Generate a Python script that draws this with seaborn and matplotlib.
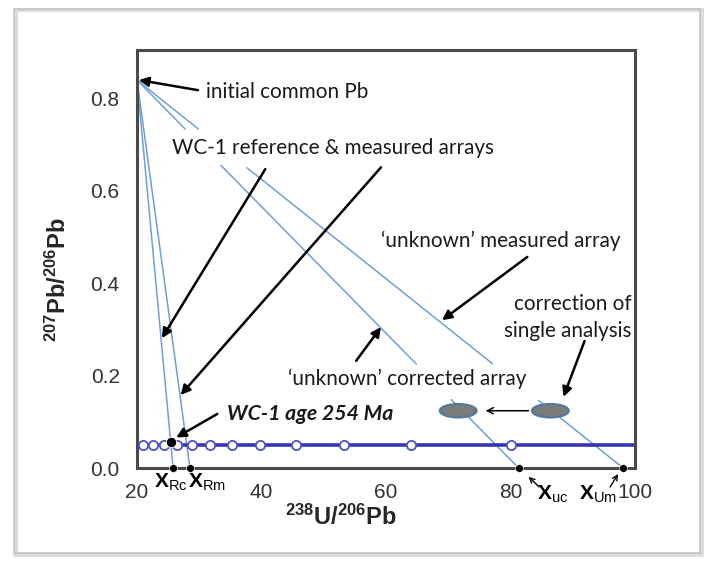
import numpy as np
import pandas as pd
import matplotlib
matplotlib.use('Agg')
import matplotlib.pyplot as plt
import seaborn as sns
from matplotlib.patches import Ellipse, Rectangle
from matplotlib.ticker import MultipleLocator

# ---------------- data ----------------
common_pb_x, common_pb_y = 20.0, 0.84           # initial common Pb
intercept_names = ['Rc', 'Rm', 'uc', 'Um']
intercept_x = [25.8, 28.5, 81.3, 98.1]           # x-axis intercepts
# y-extent of the visible pieces of each regression array
seg_ref = [(0.84, 0.0)]
seg_meas = [(0.84, 0.0)]
seg_unk_corr = [(0.84, 0.734), (0.655, 0.225), (0.148, 0.0)]
seg_unk_meas = [(0.84, 0.734), (0.650, 0.226), (0.146, 0.0)]
# concordia (Tera-Wasserburg) ticks, 300 -> 80 Ma
concordia_x = [20.99, 22.53, 24.30, 26.36, 28.80, 31.74, 35.32, 39.79,
               45.55, 53.22, 63.96, 80.08]
concordia_y = [0.05] * len(concordia_x)
concordia_line_x = [20, 100]
concordia_line_y = [0.05, 0.05]
wc1_x, wc1_y = [25.5], [0.057]
ellipse_x = [71.6, 86.4]
ellipse_y = [0.124, 0.124]

x_ticks = [20, 40, 60, 80, 100]
y_ticks = [0.0, 0.2, 0.4, 0.6, 0.8]

# ---------------- style ----------------
sns.set_style('white')
plt.rcParams['font.family'] = ['Liberation Sans', 'DejaVu Sans']
plt.rcParams['mathtext.fontset'] = 'custom'
plt.rcParams['mathtext.rm'] = 'Liberation Sans'
plt.rcParams['mathtext.bf'] = 'Liberation Sans:bold'
plt.rcParams['mathtext.it'] = 'Liberation Sans:italic'

W, H = 712, 568
fig = plt.figure(figsize=(W / 100, H / 100), dpi=100)
ax = fig.add_axes([137 / W, 1 - 468 / H, (635 - 137) / W, (468 - 50) / H])

line_blue = '#6f9fd8'
conc_blue = '#3434b4'
ann_font = dict(family=['Lato', 'DejaVu Sans'], color='#1a1a1a', fontsize=14.9)


def array_xy(x_int, y_top, y_bot):
    # points on the straight line from common Pb to the x-intercept
    ys = np.array([y_top, y_bot])
    xs = common_pb_x + (x_int - common_pb_x) * (1 - ys / common_pb_y)
    return xs, ys


for x_int, segs in zip(intercept_x, [seg_ref, seg_meas, seg_unk_corr, seg_unk_meas]):
    for (yt, yb) in segs:
        xs, ys = array_xy(x_int, yt, yb)
        sns.lineplot(x=xs, y=ys, ax=ax, color=line_blue, lw=1.1,
                     sort=False, estimator=None)

# concordia
sns.lineplot(x=concordia_line_x, y=concordia_line_y, ax=ax, color=conc_blue,
             lw=2.6, sort=False, estimator=None)
sns.scatterplot(x=concordia_x, y=concordia_y, ax=ax, s=44, marker='o',
                facecolor='white', edgecolor='#5050cc', linewidth=1.3, zorder=4)

# WC-1 age point and intercept points
sns.scatterplot(x=wc1_x, y=wc1_y, ax=ax, s=55, color='black', zorder=5)
sns.scatterplot(x=intercept_x, y=[0] * len(intercept_x), ax=ax, s=32,
                color='black', zorder=6, clip_on=False)

# ellipses (single analysis)
for ex, ey in zip(ellipse_x, ellipse_y):
    ax.add_patch(Ellipse((ex, ey), width=5.9, height=0.029, facecolor='#7b7b7b',
                         edgecolor='#5577a0', lw=1.6, zorder=5))

ax.set_xlim(20, 100)
ax.set_ylim(0, 0.905)
ax.set_xticks(x_ticks)
ax.set_yticks(y_ticks)
ax.set_yticklabels([f'{v:.1f}' for v in y_ticks])
ax.xaxis.set_minor_locator(MultipleLocator(10))
ax.yaxis.set_minor_locator(MultipleLocator(0.1))
ax.tick_params(which='both', direction='in', length=4, color='#a0a0a0',
               width=0.8, labelsize=15, labelcolor='#333333')
ax.tick_params(axis='x', pad=11)
ax.tick_params(axis='y', pad=12.5)
for sp in ax.spines.values():
    sp.set_color('#4a4a4a')
    sp.set_linewidth(2.2)

ax.set_xlabel(r'$\mathbf{^{238}U/^{206}Pb}$', fontsize=17)
ax.set_ylabel(r'$\mathbf{^{207}Pb/^{206}Pb}$', fontsize=17)
ax.xaxis.set_label_coords(0.41, -0.118)
ax.yaxis.set_label_coords(-0.158, 0.45)
ax.xaxis.label.set_va('center')
ax.yaxis.label.set_va('center')


def arrow(head, tail, lw=1.8, style='-|>', ms=14):
    ax.annotate('', xy=head, xytext=tail, annotation_clip=False,
                arrowprops=dict(arrowstyle=style, color='black', lw=lw,
                                mutation_scale=ms, shrinkA=0, shrinkB=0))


# annotations
ax.text(31.1, 0.815, 'initial common Pb', ha='left', va='center', **ann_font)
arrow((20.3, 0.84), (29.8, 0.818))

ax.text(25.6, 0.693, 'WC-1 reference & measured arrays', ha='left', va='center', **ann_font)
arrow((24.0, 0.281), (40.6, 0.647))
arrow((27.0, 0.158), (59.2, 0.651))

ax.text(34.5, 0.117, 'WC-1 age 254 Ma', ha='left', va='center',
        family=['Lato', 'DejaVu Sans'], color='#1a1a1a', fontsize=15.3,
        fontweight='bold', fontstyle='italic')
arrow((26.3, 0.066), (32.9, 0.117))

ax.text(59.2, 0.491, '\u2018unknown\u2019 measured array', ha='left', va='center', **ann_font)
arrow((69.0, 0.32), (82.7, 0.457))

ax.text(44.3, 0.193, '\u2018unknown\u2019 corrected array', ha='left', va='center', **ann_font)
arrow((59.2, 0.305), (55.2, 0.232))

ax.text(99.4, 0.355, 'correction of', ha='right', va='center', **ann_font)
ax.text(99.4, 0.297, 'single analysis', ha='right', va='center', **ann_font)
arrow((88.5, 0.154), (91.9, 0.275))

arrow((76.0, 0.124), (82.9, 0.124), lw=1.1, style='->', ms=11)

# intercept labels
for name, xt, yt in [('Rc', 25.4, -0.031), ('Rm', 31.3, -0.031),
                     ('uc', 86.7, -0.058), ('Um', 94.0, -0.058)]:
    ax.text(xt, yt, r'$\mathbf{X}_{\mathrm{%s}}$' % name, ha='center', va='center',
            fontsize=15, color='black', clip_on=False)
arrow((82.9, -0.019), (84.6, -0.041), lw=1.0, style='->', ms=9)
arrow((97.3, -0.013), (96.0, -0.041), lw=1.0, style='->', ms=9)

# outer frame
fig.patches.append(Rectangle((16 / W, 1 - 555 / H), 686 / W, 545 / H,
                             transform=fig.transFigure, fill=False,
                             edgecolor='#dcdcdc', lw=3, zorder=0))
fig.patches.append(Rectangle((14 / W, 1 - 553 / H), 686 / W, 544 / H,
                             transform=fig.transFigure, fill=False,
                             edgecolor='#c4c4c4', lw=1.2, zorder=1))

fig.savefig('out.png', dpi=100, facecolor='white')
